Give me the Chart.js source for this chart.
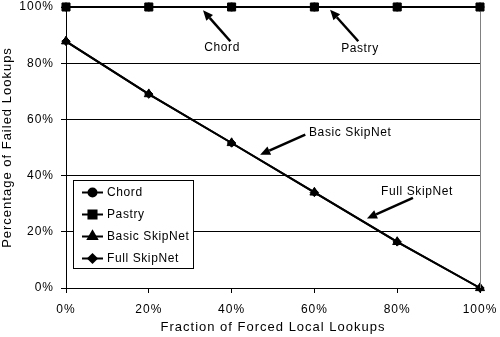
<!DOCTYPE html>
<html>
<head>
<meta charset="utf-8">
<script src="https://cdn.jsdelivr.net/npm/chart.js@4.4.0/dist/chart.umd.min.js"></script>
<style>
  html, body { margin: 0; padding: 0; background: #fff; }
  #wrap { width: 500px; height: 337px; }
</style>
</head>
<body>
<div id="wrap"><canvas id="chart"></canvas></div>
<script>
// fraction of forced local lookups (%)
const fractions = [0, 20, 40, 60, 80, 100];
const chordFailed = [100, 100, 100, 100, 100, 100];
const pastryFailed = [100, 100, 100, 100, 100, 100];
const basicSkipNetFailed = [87.8, 69.0, 51.6, 34.0, 16.4, 0];
const fullSkipNetFailed = [87.8, 69.0, 51.6, 34.0, 16.4, 0];

// callout labels with arrows, in data units
const noteText = ['Chord', 'Pastry', 'Basic SkipNet', 'Full SkipNet'];
const noteTextX = [37.7, 71.0, 58.7, 76.1];
const noteTextY = [85.5, 85.2, 55.3, 34.3];
const noteAlign = ['center', 'center', 'left', 'left'];
const arrowFromX = [39.7, 70.6, 57.8, 83.8];
const arrowFromY = [87.8, 87.8, 54.6, 32.1];
const arrowToX = [33.1, 63.8, 46.9, 72.7];
const arrowToY = [98.8, 99.0, 47.4, 24.7];

Chart.defaults.font.family = '"Liberation Sans", Arial, sans-serif';
Chart.defaults.font.size = 12;
Chart.defaults.color = '#000';

const markerRadius = { circle: 4, rect: 5.7, triangle: 5.2, rectRot: 4.2 };

function pts(ys) {
  return fractions.map((x, i) => ({ x: x, y: ys[i] }));
}

function series(label, ys, style, order) {
  return {
    label: label,
    data: pts(ys),
    borderColor: '#000',
    backgroundColor: '#000',
    borderWidth: 2,
    pointStyle: style,
    pointRadius: markerRadius[style],
    pointBorderWidth: 1,
    pointBackgroundColor: '#000',
    pointBorderColor: '#000',
    clip: false,
    order: order
  };
}

const extras = {
  id: 'extras',
  beforeDraw(chart) {
    // slightly looser text for axis ticks and titles
    chart.ctx.letterSpacing = '1px';
  },
  afterDatasetsDraw(chart) {
    const ctx = chart.ctx;
    const a = chart.chartArea;
    const xs = chart.scales.x, ys = chart.scales.y;

    // gray right edge of plot area
    ctx.save();
    ctx.strokeStyle = '#808080';
    ctx.lineWidth = 1;
    ctx.beginPath();
    ctx.moveTo(a.right + 0.5, a.top + 5);
    ctx.lineTo(a.right + 0.5, a.bottom);
    ctx.stroke();
    ctx.restore();

    // callouts
    ctx.save();
    ctx.letterSpacing = '0.6px';
    ctx.fillStyle = '#000';
    ctx.strokeStyle = '#000';
    ctx.font = '12px "Liberation Sans", Arial, sans-serif';
    ctx.textBaseline = 'middle';
    noteText.forEach((t, i) => {
      ctx.textAlign = noteAlign[i];
      ctx.fillText(t, xs.getPixelForValue(noteTextX[i]), ys.getPixelForValue(noteTextY[i]));
      const x0 = xs.getPixelForValue(arrowFromX[i]), y0 = ys.getPixelForValue(arrowFromY[i]);
      const x1 = xs.getPixelForValue(arrowToX[i]), y1 = ys.getPixelForValue(arrowToY[i]);
      const ang = Math.atan2(y1 - y0, x1 - x0);
      const len = 10, half = 4.5;
      const bx = x1 - len * Math.cos(ang), by = y1 - len * Math.sin(ang);
      ctx.lineWidth = 2.5;
      ctx.beginPath();
      ctx.moveTo(x0, y0);
      ctx.lineTo(bx, by);
      ctx.stroke();
      ctx.beginPath();
      ctx.moveTo(x1, y1);
      ctx.lineTo(bx + half * Math.sin(ang), by - half * Math.cos(ang));
      ctx.lineTo(bx - half * Math.sin(ang), by + half * Math.cos(ang));
      ctx.closePath();
      ctx.fill();
    });
    ctx.restore();

    // boxed legend inside the plot, lower left
    const bl = a.left + 7, bt = a.bottom - 108, bw = 120, bh = 88;
    ctx.save();
    ctx.letterSpacing = '0.6px';
    ctx.fillStyle = '#fff';
    ctx.fillRect(bl, bt, bw, bh);
    ctx.strokeStyle = '#000';
    ctx.lineWidth = 1;
    ctx.strokeRect(bl + 0.5, bt + 0.5, bw, bh);
    ctx.font = '12px "Liberation Sans", Arial, sans-serif';
    ctx.textBaseline = 'middle';
    ctx.textAlign = 'left';
    chart.data.datasets.forEach((ds, i) => {
      const cy = bt + 12.5 + i * 22;
      ctx.strokeStyle = '#000';
      ctx.lineWidth = 2;
      ctx.beginPath();
      ctx.moveTo(bl + 9, cy);
      ctx.lineTo(bl + 30, cy);
      ctx.stroke();
      ctx.fillStyle = '#000';
      Chart.helpers.drawPoint(ctx, {
        pointStyle: ds.pointStyle,
        radius: ds.pointRadius,
        borderWidth: 1
      }, bl + 19.5, cy);
      ctx.fillStyle = '#000';
      ctx.fillText(ds.label, bl + 34, cy + 0.5);
    });
    ctx.restore();
  }
};

new Chart(document.getElementById('chart'), {
  type: 'line',
  data: {
    datasets: [
      series('Chord', chordFailed, 'circle', 4),
      series('Pastry', pastryFailed, 'rect', 3),
      series('Basic SkipNet', basicSkipNetFailed, 'triangle', 1),
      series('Full SkipNet', fullSkipNetFailed, 'rectRot', 2)
    ]
  },
  options: {
    responsive: true,
    maintainAspectRatio: false,
    animation: false,
    layout: { padding: { top: 7, right: 20, left: 0, bottom: 0 } },
    plugins: {
      legend: { display: false },
      tooltip: { enabled: false }
    },
    scales: {
      x: {
        type: 'linear',
        min: 0,
        max: 100,
        afterFit: (s) => { s.height = 49; s.paddingLeft = 0; s.paddingRight = 0; },
        ticks: {
          stepSize: 20,
          padding: 9,
          maxRotation: 0,
          callback: (v) => v + '%'
        },
        grid: { drawOnChartArea: false, drawTicks: true, tickLength: 5, color: '#000' },
        border: { color: '#000', width: 1 },
        title: {
          display: true,
          text: 'Fraction of Forced Local Lookups',
          font: { size: 13 },
          padding: { top: 0, bottom: 2 }
        }
      },
      y: {
        min: 0,
        max: 100,
        afterFit: (s) => { s.width = 66; s.paddingTop = 0; s.paddingBottom = 0; },
        ticks: {
          stepSize: 20,
          padding: 7,
          callback: (v) => v + '%'
        },
        grid: { color: '#000', tickLength: 5 },
        border: { color: '#000', width: 1 },
        title: {
          display: true,
          text: 'Percentage of Failed Lookups',
          font: { size: 13 },
          padding: { top: 0, bottom: 0 }
        }
      }
    }
  },
  plugins: [extras]
});
</script>
</body>
</html>
